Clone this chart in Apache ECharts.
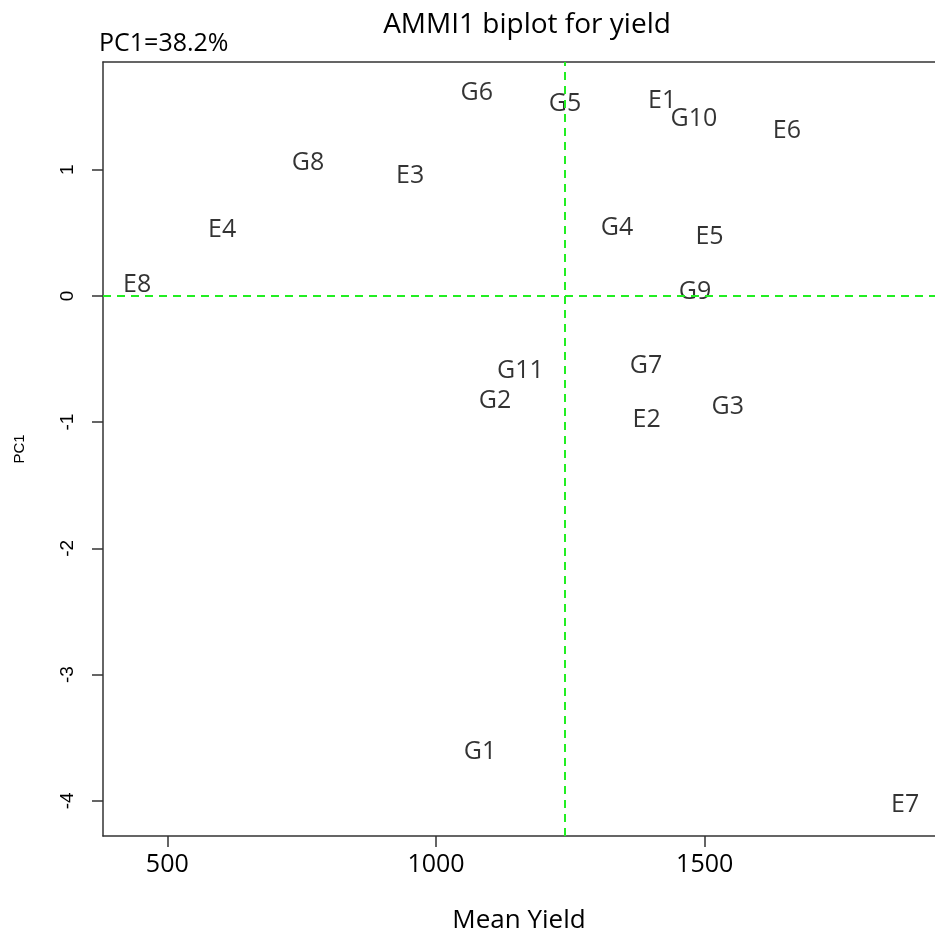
<!DOCTYPE html>
<html>
<head>
<meta charset="utf-8">
<script src="https://cdn.jsdelivr.net/npm/echarts@6/dist/echarts.min.js"></script>
<style>html,body{margin:0;padding:0;background:#fff;overflow:hidden;}#c{width:935px;height:932px;}</style>
</head>
<body>
<div id="c"></div>
<script>
const labels = ['G6','G5','E1','G10','E6','G8','E3','E4','G4','E5','E8','G9','G11','G7','G2','G3','E2','G1','E7'];
const meanYield = [1076,1240,1421,1480,1653,762,952,602,1337,1509,444,1482,1157,1391,1110,1543,1392,1082,1873];
const pc1 = [1.605,1.518,1.542,1.40,1.304,1.051,0.948,0.52,0.536,0.465,0.085,0.03,-0.596,-0.556,-0.830,-0.877,-0.98,-3.613,-4.03];
const xTicks = [500,1000,1500];
const yTicks = [-4,-3,-2,-1,0,1];
const grandMean = 1240;

const FONT = 'Open Sans';
const XMIN = 380.4, XMAX = 1928.6, YMIN = -4.278, YMAX = 1.853;
const chart = echarts.init(document.getElementById('c'));
const pts = labels.map((l,i)=>({value:[meanYield[i], pc1[i]], name:l}));
const lineSt = {color:'#333', width:1.5};
chart.setOption({
  animation:false,
  title:{text:'AMMI1 biplot for yield', left:522, top:6, textAlign:'center',
    textStyle:{fontFamily:FONT, fontSize:28, fontWeight:'normal', color:'#000'}},
  graphic:[{type:'text', left:99, top:31, style:{text:'PC1=38.2%', fontFamily:FONT, fontSize:25, fill:'#000'}}],
  grid:{left:103, top:62, right:0, bottom:96, outerBoundsMode:'none', containLabel:false, show:false},
  xAxis:[{type:'value', min:XMIN, max:XMAX, position:'bottom', name:'Mean Yield', nameLocation:'middle', nameGap:72,
    nameTextStyle:{fontFamily:FONT, fontSize:26, color:'#000'},
    splitLine:{show:false},
    axisLine:{show:true, onZero:false, lineStyle:lineSt},
    axisTick:{show:true, length:11, lineStyle:lineSt, customValues:xTicks},
    axisLabel:{fontFamily:FONT, fontSize:25, color:'#000', margin:16, customValues:xTicks, formatter:v=>String(v)}
  },{type:'value', min:XMIN, max:XMAX, position:'top',
    splitLine:{show:false}, axisLine:{show:true, onZero:false, lineStyle:lineSt},
    axisTick:{show:false}, axisLabel:{show:false}
  }],
  yAxis:{type:'value', min:YMIN, max:YMAX, position:'left', name:'PC1', nameLocation:'middle', nameGap:76, nameRotate:90,
    nameTextStyle:{fontFamily:'Liberation Sans', fontSize:15, color:'#000'},
    splitLine:{show:false},
    axisLine:{show:true, onZero:false, lineStyle:lineSt},
    axisTick:{show:true, length:11, lineStyle:lineSt, customValues:yTicks},
    axisLabel:{fontFamily:'Liberation Sans', fontSize:19, color:'#000', margin:26, rotate:90, customValues:yTicks}
  },
  series:[{
    type:'scatter', xAxisIndex:0, yAxisIndex:0, data:pts, symbol:'circle', symbolSize:1,
    itemStyle:{color:'rgba(0,0,0,0)'},
    label:{show:true, position:'inside', formatter:p=>p.name, fontFamily:FONT, fontSize:25, color:'#000'},
    markLine:{silent:true, symbol:'none', label:{show:false},
      lineStyle:{color:'#22ee22', type:[8,6], width:2},
      data:[{xAxis:grandMean},{yAxis:0}]}
  }]
});
</script>
</body>
</html>
